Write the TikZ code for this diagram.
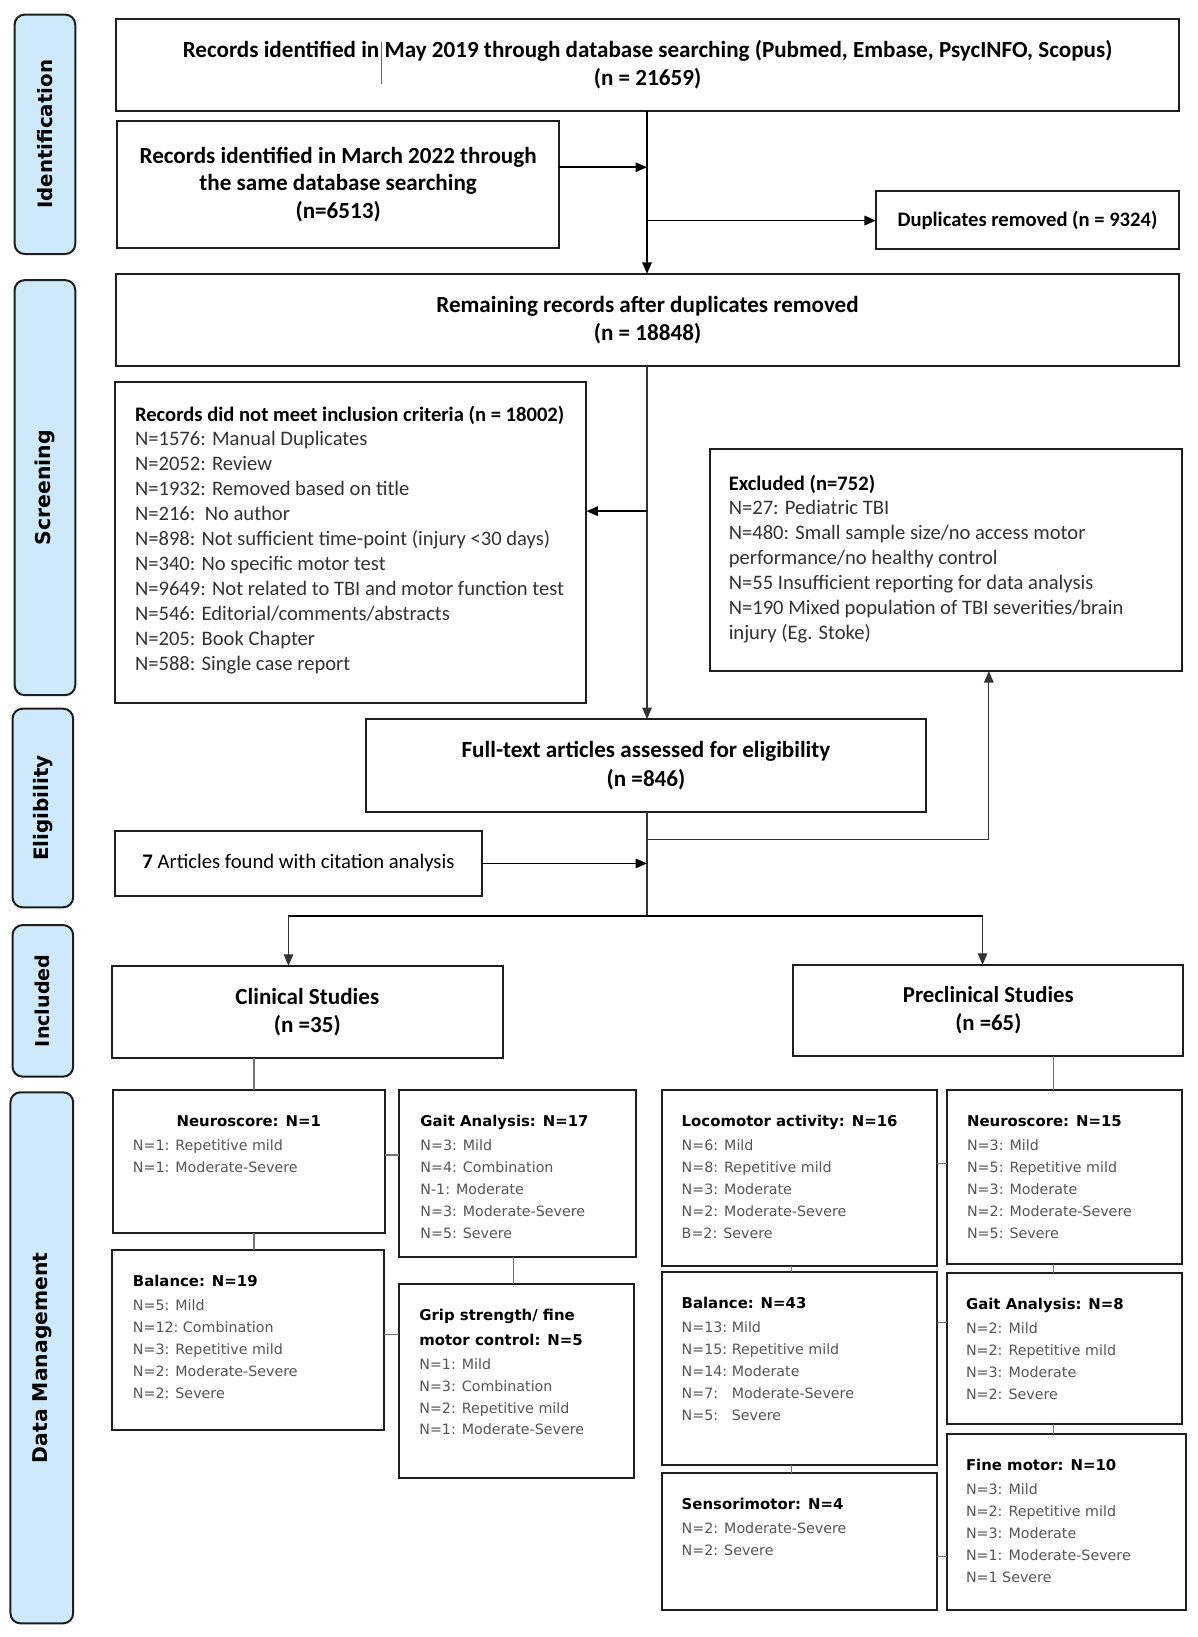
\documentclass[tikz,border=0pt]{standalone}
\usepackage{fontspec}
\setmainfont{Carlito}
\newfontfamily\dv{DejaVu Sans}
\usetikzlibrary{arrows.meta}
\definecolor{sidefill}{RGB}{206,233,250}
\definecolor{boxline}{RGB}{30,30,30}
\definecolor{dmgray}{RGB}{85,85,85}
\definecolor{listgray}{RGB}{50,50,50}
\def\sc{1.0453}
\newcommand\dmitem{\dv\fontsize{14.25}{21.95}\selectfont}
\newcommand\dmtitle{\dv\bfseries\fontsize{14.9}{21.95}\selectfont}
\newcommand\ttl[1]{\textcolor{black}{\dmtitle #1}}
\begin{document}
\begin{tikzpicture}[x=1.0453pt,y=-1.0453pt,
  sz/.style 2 args={minimum width=\sc*#1pt, minimum height=\sc*#2pt},
  box/.style={draw=boxline, line width=2pt, fill=white, anchor=north west, inner sep=0, outer sep=0},
  side/.style={draw=boxline, line width=2pt, fill=sidefill, rounded corners=10pt, anchor=north west, inner sep=0, outer sep=0},
  sidetxt/.style={rotate=90, inner sep=0, font=\dv\bfseries\fontsize{19.8}{21}\selectfont},
  ctext/.style={align=center, inner sep=0, font=\bfseries\fontsize{23.1}{28.2}\selectfont},
  ltext/.style={anchor=north west, inner sep=0, align=left, text=listgray, font=\fontsize{20.6}{24.9}\selectfont},
  dmtext/.style={anchor=north west, inner sep=0, align=left, text=dmgray, font=\dmitem},
  arr/.style={line width=1.7pt, draw=black, -{Triangle[length=11.5pt,width=9.5pt]}},
  flow/.style={line width=1.7pt, draw=black},
  thinflow/.style={line width=1.25pt, draw=black!80},
  thinarr/.style={line width=1.25pt, draw=black!80, -{Triangle[length=11.5pt,width=9.5pt]}},
  dmline/.style={line width=1.25pt, draw=black!55}]
\fill[white] (0,0) rectangle (1146.1,1566.1);
\useasboundingbox (0,0) rectangle (1146.1,1566.1);

% side labels
\node[side, sz={58}{229}] (sId) at (14,14) {};
\node[sidetxt] (tId) at (sId.center) {Identification};
\node[side, sz={58}{397}] (sScr) at (14,268) {};
\node[sidetxt, font=\dv\bfseries\fontsize{20.4}{21}\selectfont] (tScr) at (sScr.center) {Screening};
\node[side, sz={58}{190}] (sElig) at (12,678) {};
\node[sidetxt, font=\dv\bfseries\fontsize{19.9}{21}\selectfont] (tElig) at (sElig.center) {Eligibility};
\node[side, sz={58}{145}] (sInc) at (12,885) {};
\node[sidetxt, font=\dv\bfseries\fontsize{19.1}{21}\selectfont] (tInc) at (sInc.center) {Included};
\node[side, sz={60}{508}] (sDM) at (10,1045) {};
\node[sidetxt, font=\dv\bfseries\fontsize{20.3}{22}\selectfont] (tDM) at (sDM.center) {Data Management};

% main boxes
\node[box, sz={1017}{88}] (top) at (111,18) {};
\node[ctext] (tTop) at (top.center) {Records identified in May 2019 through database searching (Pubmed, Embase, PsycINFO, Scopus)\\(n = 21659)};
\draw[line width=0.8pt, black!60] (365,40) -- (365,80);

\node[box, sz={423}{121}] (march) at (112,116) {};
\node[ctext, font=\bfseries\fontsize{23.1}{27.7}\selectfont] (tMarch) at (march.center) {Records identified in March 2022 through\\the same database searching\\(n=6513)};

\node[box, sz={290}{55}] (dup) at (838,183) {};
\node[ctext, font=\bfseries\fontsize{20.6}{22}\selectfont] (tDup) at (dup.center) {Duplicates removed (n = 9324)};

\node[box, sz={1017}{88}] (remain) at (111,262) {};
\node[ctext] (tRemain) at (remain.center) {Remaining records after duplicates removed\\(n = 18848)};

\node[box, sz={451}{308}] (notmeet) at (110,365) {};
\node[ltext] (tNot) at (129,388) {\textcolor{black}{\bfseries Records did not meet inclusion criteria (n = 18002)}\\
N=1576: Manual Duplicates\\
N=2052: Review\\
N=1932: Removed based on title\\
N=216:\ \ No author\\
N=898: Not sufficient time-point (injury <30 days)\\
N=340: No specific motor test\\
N=9649: Not related to TBI and motor function test\\
N=546: Editorial/comments/abstracts\\
N=205: Book Chapter\\
N=588: Single case report};

\node[box, sz={452}{212}] (excl) at (679,430) {};
\node[ltext] (tExcl) at (697,454) {\textcolor{black}{\bfseries Excluded (n=752)}\\
N=27: Pediatric TBI\\
N=480: Small sample size/no access motor\\
performance/no healthy control\\
N=55 Insufficient reporting for data analysis\\
N=190 Mixed population of TBI severities/brain\\
injury (Eg. Stoke)};

\node[box, sz={536}{89}] (full) at (350,688) {};
\node[ctext] (tFull) at (full.center) {Full-text articles assessed for eligibility\\(n =846)};

\node[box, sz={351}{62}] (seven) at (110,795) {};
\node[inner sep=0, font=\fontsize{20.7}{22}\selectfont] (tSeven) at (seven.center) {\textbf{7} Articles found with citation analysis};

\node[box, sz={374}{88}] (clin) at (107,924) {};
\node[ctext] (tClin) at (clin.center) {Clinical Studies\\(n =35)};

\node[box, sz={373}{87}] (precl) at (759,923) {};
\node[ctext, font=\bfseries\fontsize{22.8}{28.2}\selectfont] (tPrecl) at (precl.center) {Preclinical Studies\\(n =65)};

% main connectors
\coordinate (j1) at (619,160);
\coordinate (j2) at (619,211);
\coordinate (j3) at (619,489);
\coordinate (j4) at (619,803);
\coordinate (j4b) at (946,803);
\coordinate (j5) at (619,826);
\coordinate (j6) at (619,876);
\coordinate (bL) at (276,876);
\coordinate (bR) at (940,876);
\draw[arr] (top.south -| j1) -- (remain.north -| j1);
\draw[arr] (march.east |- j1) -- (j1);
\draw[arr] (j2) -- (dup.west |- j2);
\draw[thinarr] (remain.south -| j3) -- (full.north -| j3);
\draw[arr] (j3) -- (notmeet.east |- j3);
\draw[thinflow] (full.south -| j4) -- (j6);
\draw[thinarr] (j4) -- (j4b) -- (excl.south -| j4b);
\draw[arr] (seven.east |- j5) -- (j5);
\draw[flow] (bL) -- (bR);
\draw[thinarr] (bL) -- (clin.north -| bL);
\draw[thinarr] (bR) -- (precl.north -| bR);

% clinical data boxes
\node[box, sz={260}{137}] (cNeuro) at (108,1043) {};
\node[inner sep=0, font=\dmtitle] (tcNeuroT) at (238,1073) {Neuroscore: N=1};
\node[dmtext] (tcNeuro) at (127,1090.5) {N=1: Repetitive mild\\N=1: Moderate-Severe};

\node[box, sz={226}{160}] (cGait) at (382,1043) {};
\node[dmtext] (tcGait) at (402,1067) {\ttl{Gait Analysis: N=17}\\[2pt]
N=3: Mild\\N=4: Combination\\N-1: Moderate\\N=3: Moderate-Severe\\N=5: Severe};

\node[box, sz={260}{172}] (cBal) at (107,1196) {};
\node[dmtext] (tcBal) at (127,1220) {\ttl{Balance: N=19}\\[2pt]
N=5: Mild\\N=12:\ Combination\\N=3: Repetitive mild\\N=2: Moderate-Severe\\N=2: Severe};

\node[box, sz={225}{186}] (cGrip) at (382,1228) {};
\node[dmtext] (tcGrip) at (401,1252) {\ttl{Grip strength/ fine}\\[3pt]\ttl{motor control: N=5}\\[2pt]
N=1: Mild\\N=3: Combination\\N=2: Repetitive mild\\N=1: Moderate-Severe};

% preclinical data boxes
\node[box, sz={263}{168}] (pLoco) at (633,1043) {};
\node[dmtext] (tpLoco) at (652,1067) {\ttl{Locomotor activity: N=16}\\[2pt]
N=6: Mild\\N=8: Repetitive mild\\N=3: Moderate\\N=2: Moderate-Severe\\B=2: Severe};

\node[box, sz={225}{166}] (pNeuro) at (906,1043) {};
\node[dmtext] (tpNeuro) at (925,1067) {\ttl{Neuroscore: N=15}\\[2pt]
N=3: Mild\\N=5: Repetitive mild\\N=3: Moderate\\N=2: Moderate-Severe\\N=5: Severe};

\node[box, sz={263}{185}] (pBal) at (633,1217) {};
\node[dmtext] (tpBal) at (652,1241) {\ttl{Balance: N=43}\\[2pt]
N=13:\ Mild\\N=15:\ Repetitive mild\\N=14:\ Moderate\\N=7:\ \ \ Moderate-Severe\\N=5:\ \ \ Severe};

\node[box, sz={225}{144}] (pGait) at (906,1218) {};
\node[dmtext] (tpGait) at (924,1242) {\ttl{Gait Analysis: N=8}\\[2pt]
N=2: Mild\\N=2: Repetitive mild\\N=3: Moderate\\N=2: Severe};

\node[box, sz={263}{131}] (pSens) at (633,1409) {};
\node[dmtext] (tpSens) at (652,1433) {\ttl{Sensorimotor: N=4}\\[2pt]
N=2: Moderate-Severe\\N=2: Severe};

\node[box, sz={229}{168}] (pFine) at (906,1372) {};
\node[dmtext] (tpFine) at (924,1396) {\ttl{Fine motor: N=10}\\[2pt]
N=3: Mild\\N=2: Repetitive mild\\N=3: Moderate\\N=1: Moderate-Severe\\N=1 Severe};

% data management connectors
\coordinate (cx) at (243,0);
\coordinate (cx2) at (491,0);
\coordinate (cy1) at (0,1105);
\coordinate (cy2) at (0,1277);
\draw[dmline] (clin.south -| cx) -- (cNeuro.north -| cx);
\draw[dmline] (cNeuro.south -| cx) -- (cBal.north -| cx);
\draw[dmline] (cNeuro.east |- cy1) -- (cGait.west |- cy1);
\draw[dmline] (cGait.south -| cx2) -- (cGrip.north -| cx2);
\draw[dmline] (cBal.east |- cy2) -- (cGrip.west |- cy2);

\coordinate (px) at (1008,0);
\coordinate (px2) at (757,0);
\coordinate (py1) at (0,1113);
\coordinate (py2) at (0,1265);
\coordinate (py3) at (0,1489);
\draw[dmline] (precl.south -| px) -- (pNeuro.north -| px);
\draw[dmline] (pNeuro.south -| px) -- (pGait.north -| px);
\draw[dmline] (pGait.south -| px) -- (pFine.north -| px);
\draw[dmline] (pLoco.south -| px2) -- (pBal.north -| px2);
\draw[dmline] (pBal.south -| px2) -- (pSens.north -| px2);
\draw[dmline] (pLoco.east |- py1) -- (pNeuro.west |- py1);
\draw[dmline] (pBal.east |- py2) -- (pGait.west |- py2);
\draw[dmline] (pSens.east |- py3) -- (pFine.west |- py3);
\end{tikzpicture}
\end{document}
